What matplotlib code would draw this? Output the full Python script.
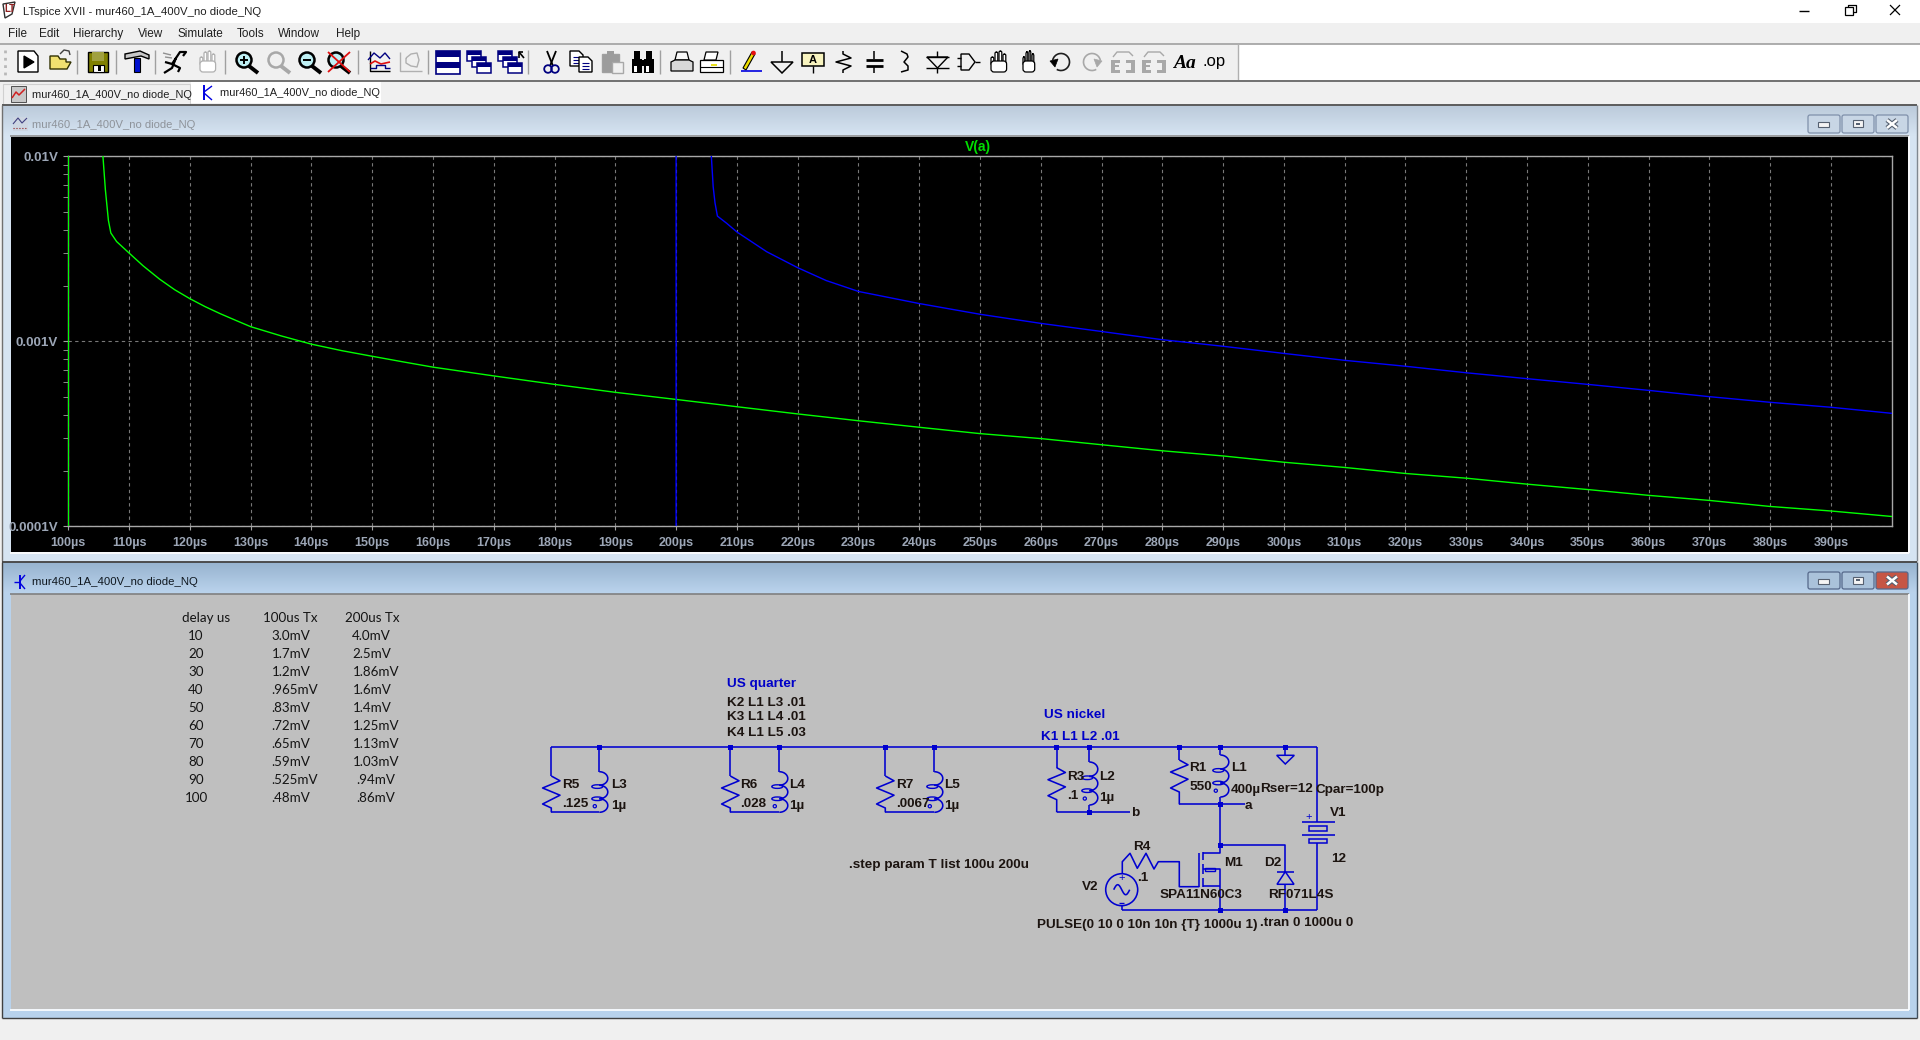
import numpy as np
import matplotlib
matplotlib.use("Agg")
import matplotlib.pyplot as plt
from matplotlib.patches import Rectangle, Circle, Polygon, Ellipse, FancyBboxPatch, Arc

# Traces
green_t = [100, 100, 105.7, 106.1, 106.6, 107, 107.95, 110, 112.3, 115, 117.5, 120, 122.5, 125, 127.5, 130, 135, 140, 145,
           150, 155, 160, 170, 180, 190, 200, 210, 220, 230, 240, 250, 260, 270, 280, 290, 300, 310, 320, 330, 340, 350,
           360, 370, 380, 390, 400]
green_v = [1e-5, 1, 0.01, 6.6e-3, 4.5e-3, 3.85e-3, 3.46e-3, 3.0e-3, 2.56e-3, 2.17e-3, 1.9e-3, 1.7e-3, 1.54e-3, 1.41e-3,
           1.30e-3, 1.2e-3, 1.07e-3, 9.65e-4, 8.9e-4, 8.3e-4, 7.75e-4, 7.25e-4, 6.5e-4, 5.85e-4, 5.3e-4, 4.85e-4, 4.43e-4,
           4.05e-4, 3.72e-4, 3.43e-4, 3.17e-4, 2.98e-4, 2.76e-4, 2.56e-4, 2.40e-4, 2.22e-4, 2.08e-4, 1.93e-4, 1.82e-4,
           1.69e-4, 1.58e-4, 1.47e-4, 1.38e-4, 1.28e-4, 1.21e-4, 1.13e-4]
blue_t = [200, 200, 205.8, 206.1, 206.4, 206.8, 208.3, 210, 214.9, 220, 224.7, 230, 240, 250, 260, 270, 280, 290, 300,
          310, 320, 330, 340, 350, 360, 370, 380, 390, 400]
blue_v = [1e-5, 1, 0.01, 6.85e-3, 5.6e-3, 4.75e-3, 4.35e-3, 3.9e-3, 3.05e-3, 2.5e-3, 2.13e-3, 1.86e-3, 1.6e-3, 1.4e-3,
          1.25e-3, 1.13e-3, 1.02e-3, 9.4e-4, 8.6e-4, 7.89e-4, 7.33e-4, 6.76e-4, 6.28e-4, 5.85e-4, 5.43e-4, 5.02e-4,
          4.68e-4, 4.40e-4, 4.08e-4]
x_ticks = list(range(100, 400, 10))
y_ticks = [0.01, 0.001, 0.0001]
y_labels = ["0.01V", "0.001V", "0.0001V"]

# Table pasted into the schematic
delay_us = ["10", "20", "30", "40", "50", "60", "70", "80", "90", "100"]
tx_100us = ["3.0mV", "1.7mV", "1.2mV", ".965mV", ".83mV", ".72mV", ".65mV", ".59mV", ".525mV", ".48mV"]
tx_200us = ["4.0mV", "2.5mV", "1.86mV", "1.6mV", "1.4mV", "1.25mV", "1.13mV", "1.03mV", ".94mV", ".86mV"]

menu_items = ["File", "Edit", "Hierarchy", "View", "Simulate", "Tools", "Window", "Help"]
menu_x = [8, 39, 73, 138, 177, 237, 278, 336]
doc_name = "mur460_1A_400V_no diode_NQ"

UI = "Liberation Sans"
WIRE = "#0000d0"
PANEL = "#f0f0f0"

fig = plt.figure(figsize=(19.2, 10.4), dpi=100, facecolor=PANEL)
bg = fig.add_axes([0, 0, 1, 1])
bg.set_xlim(0, 1920)
bg.set_ylim(1040, 0)
bg.axis("off")


def box(x0, y0, x1, y1, fc="none", ec="none", lw=1.0, z=1):
    bg.add_patch(Rectangle((x0, y0), x1 - x0, y1 - y0, facecolor=fc, edgecolor=ec, linewidth=lw, zorder=z))


def gradient(x0, y0, x1, y1, top, bottom):
    c0 = np.array(matplotlib.colors.to_rgb(top))
    c1 = np.array(matplotlib.colors.to_rgb(bottom))
    steps = np.linspace(0, 1, 32)[:, None, None]
    img = c0[None, None, :] * (1 - steps) + c1[None, None, :] * steps
    bg.imshow(img, extent=(x0, x1, y1, y0), aspect="auto", zorder=1, interpolation="bilinear")
    bg.set_xlim(0, 1920)
    bg.set_ylim(1040, 0)


def line(xs, ys, c="black", lw=1.0, z=3, **kw):
    bg.plot(xs, ys, color=c, lw=lw, zorder=z, solid_capstyle="butt", **kw)


def poly(pts, fc="none", ec="black", lw=0.9, z=3):
    bg.add_patch(Polygon(pts, closed=True, facecolor=fc, edgecolor=ec, linewidth=lw, zorder=z))


def label(x, y, s, size=9.7, c="#1c1410", weight="bold", family="Liberation Sans", ha="left", z=6):
    bg.text(x, y + 0.8, s, fontsize=size, color=c, fontweight=weight, family=family, ha=ha, va="center", zorder=z)


# ---- main window chrome ----
box(0, 0, 1920, 23, fc="white")
box(0, 23, 1920, 43, fc=PANEL)
line([0, 1920], [43.5, 43.5], "#a0a0a0", 1.2)
box(0, 44, 1238, 80, fc=PANEL)
box(1238, 44, 1920, 80, fc="white")
line([1238, 1238], [44, 80], "#b0b0b0", 1)
line([0, 1920], [81, 81], "#707070", 1.4)
label(23, 11.5, "LTspice XVII - " + doc_name, size=8.2, c="#202020", weight="normal", family=UI)
for name, mx in zip(menu_items, menu_x):
    label(mx, 33, name, size=8.5, c="#202020", weight="normal", family=UI)
# title bar logo
poly([(3, 4), (15, 2), (12, 14), (5, 18)], fc="white", ec="#303030", lw=1)
label(4, 8, "LT", size=7, c="#902020", family=UI)
# caption buttons
line([1799, 1809], [10.5, 10.5], "black", 1)
box(1845, 7, 1853, 15, ec="black", fc="white", lw=0.9, z=4)
line([1848, 1848, 1856, 1856, 1853], [7, 4.5, 4.5, 12, 12], "black", 0.9)
line([1890, 1900], [5, 15], "black", 0.9)
line([1890, 1900], [15, 5], "black", 0.9)

# tabs
box(3, 84, 190, 105, fc=PANEL, ec="#d0d0d0", lw=0.8)
box(191, 82, 381, 103, fc="white")
label(32, 94.5, doc_name, size=7.95, c="#202020", weight="normal", family=UI)
label(220, 92.5, doc_name, size=7.95, c="#202020", weight="normal", family=UI)
box(11, 86, 26, 102, fc="#c8c8c8", ec="#505050", lw=0.7)
line([12, 16, 19, 25], [98, 92, 95, 89], "#d02020", 1.1)
line([204, 204], [85, 100], "#0000e0", 1.4)
line([204, 212], [92, 86], "#0000e0", 1.0)
line([204, 212], [93, 100], "#0000e0", 1.0)

# ---- MDI child windows ----
box(2, 105, 1917, 561, fc="#d6e4f2")
gradient(2, 106, 1917, 136, "#bccbdb", "#d6e4f2")
line([2, 1917], [105, 105], "#505050", 1.3)
line([2, 2], [105, 561], "#707070", 1.0)
line([1917, 1917], [105, 561], "#808890", 1.0)
box(11, 137, 1908, 552, fc="black", z=2)
line([10, 1909], [136, 136], "#909090", 1.2, z=2)
line([1909, 1909], [136, 553], "white", 1.2, z=2)
line([10, 1909], [553, 553], "white", 1.2, z=2)
label(32.5, 124.5, doc_name, size=8.1, c="#8e939a", weight="normal", family=UI)

box(2, 562, 1917, 1018, fc="#b8d2ec")
gradient(2, 563, 1917, 593, "#98b4d0", "#bad3ec")
line([2, 1917], [562, 562], "#404040", 1.3)
line([2, 2], [562, 1018], "#404040", 1.0)
line([1917, 1917], [562, 1018], "#405060", 1.0)
line([2, 1917], [1018, 1018], "#404040", 1.0)
box(11, 594, 1908, 1009, fc="#bfbfbf", z=2)
line([10, 1909], [593.5, 593.5], "#808080", 1.2, z=2)
line([1908.5, 1908.5], [594, 1010], "white", 1.2, z=2)
line([10, 1909], [1009.5, 1009.5], "white", 1.2, z=2)
label(32, 581.5, doc_name, size=8.2, c="#101820", weight="normal", family=UI)
line([20, 20], [575, 589], "#0000e0", 1.4)
line([20, 25], [581, 575], "#0000e0", 1.0)
line([20, 25], [583, 589], "#0000e0", 1.0)
line([14, 20], [582, 582], "#0000e0", 1.0)
# child window plot icon
box(12.5, 117, 27.5, 131, fc="#cdd6e2", ec="none")
line([13, 18, 22, 27], [124, 118, 123, 118], "#404080", 0.8)
line([13, 27], [128, 128], "#902020", 0.8, linestyle=":")


def win_button(x0, x1, y0, y1, fc, ec):
    bg.add_patch(FancyBboxPatch((x0, y0), x1 - x0, y1 - y0, boxstyle="round,pad=0,rounding_size=2",
                                facecolor=fc, edgecolor=ec, linewidth=0.9, zorder=4))


for y0, y1, fcs, ec in [(115, 133, ["#c8d6e5", "#c8d6e5", "#c8d6e5"], "#7f90aa"),
                        (572, 589, ["#aac2da", "#aac2da", "#c65645"], "#55688a")]:
    ym = (y0 + y1) / 2
    win_button(1808, 1840, y0, y1, fcs[0], ec)
    win_button(1842, 1874, y0, y1, fcs[1], ec)
    win_button(1876, 1908, y0, y1, fcs[2], ec)
    box(1818, ym - 2, 1829, ym + 3, fc="#f4f4f4", ec="#556070", lw=0.8, z=5)
    box(1853, ym - 4, 1863, ym + 3, fc="#f4f4f4", ec="#556070", lw=0.8, z=5)
    box(1856, ym - 1.5, 1860, ym + 0.5, fc="#556070", z=6)
    line([1887, 1897], [ym - 4, ym + 4], "#556070", 3.4, z=5)
    line([1887, 1897], [ym + 4, ym - 4], "#556070", 3.4, z=5)
    line([1887, 1897], [ym - 4, ym + 4], "white", 1.8, z=6)
    line([1887, 1897], [ym + 4, ym - 4], "white", 1.8, z=6)

# ---- toolbar ----
for sx in [77, 116, 155, 225, 358, 428, 528, 660, 730]:
    line([sx, sx], [50, 74], "#a0a0a0", 1.0)
line([5, 5], [50, 76], "#b8b8b8", 2, linestyle=":")


def magnifier(x0, color, inner="#e8f4f8", mark=None):
    bg.add_patch(Circle((x0 + 9, 60), 7.5, facecolor=inner, edgecolor=color, linewidth=1.8, zorder=3))
    line([x0 + 14, x0 + 23], [66, 73], color, 2.8)
    if mark in ("plus", "minus"):
        line([x0 + 5, x0 + 13], [60, 60], "black", 1.4, z=4)
    if mark == "plus":
        line([x0 + 9, x0 + 9], [56, 64], "black", 1.4, z=4)
    if mark == "cross":
        line([x0 + 1, x0 + 23], [52, 72], "#e01010", 1.3, z=4)
        line([x0 + 1, x0 + 23], [72, 52], "#e01010", 1.3, z=4)


def hand(x0, color, w=20):
    for i, h in enumerate([6, 11, 12, 9]):
        fx = x0 + 3 + i * w / 5
        bg.add_patch(FancyBboxPatch((fx, 63 - h), w / 5 - 1.2, h + 2, boxstyle="round,pad=0,rounding_size=1.5",
                                    facecolor="white", edgecolor=color, linewidth=0.9, zorder=3))
    bg.add_patch(FancyBboxPatch((x0 + 3, 61), w * 0.78, 11, boxstyle="round,pad=0,rounding_size=3",
                                facecolor="white", edgecolor=color, linewidth=0.9, zorder=3))


def window_icon(x0, y0, w, h, c="#000080"):
    box(x0, y0, x0 + w, y0 + h, fc="white", ec=c, lw=1.1, z=3)
    box(x0, y0, x0 + w, y0 + 4, fc=c, z=3)


def undo_e(x0):
    # greyed out undo/redo text boxes
    c = "#a8a8a8"
    line([x0 + 2, x0 + 6, x0 + 18, x0 + 22], [57, 52, 52, 56], c, 1.0)
    box(x0, 60, x0 + 4, 72, fc=c, z=3)
    box(x0, 60, x0 + 9, 63, fc=c, z=3)
    box(x0, 65, x0 + 8, 67, fc=c, z=3)
    box(x0, 70, x0 + 9, 73, fc=c, z=3)
    box(x0 + 15, 60, x0 + 24, 63, fc=c, z=3)
    box(x0 + 20, 60, x0 + 24, 72, fc=c, z=3)
    box(x0 + 15, 70, x0 + 24, 73, fc=c, z=3)


# run / open / save
poly([(18, 51), (34, 51), (38, 56), (38, 72), (18, 72)], fc="white", lw=1.0)
poly([(24, 56), (34, 62), (24, 68)], fc="black")
poly([(50, 69), (50, 56), (58, 56), (60, 59), (66, 59), (66, 62), (71, 62), (67, 69)], fc="#f0e070", ec="#303000", lw=1.0)
line([60, 64, 69, 70], [54, 50, 51, 55], "#404040", 1.0)
box(88, 52, 108, 72, fc="#808000", ec="black", lw=1.0)
box(92, 52, 104, 61, fc="#a0a040", z=3)
box(93, 65, 104, 72, fc="white", ec="black", lw=0.8, z=3)
box(98, 66, 101, 71, fc="black", z=4)
# hammer, runner, hand
poly([(125, 54), (140, 51), (149, 55), (149, 59), (141, 56), (125, 59)], fc="#c8c8c8", lw=1.0)
box(134, 58, 140, 72, fc="#0010d0", ec="black", lw=0.8)
line([165, 172, 176, 172, 164], [62, 64, 58, 68, 73], "black", 1.6)
line([176, 180, 186, 183], [58, 52, 52, 56], "black", 1.6)
line([172, 180, 178], [64, 68, 72], "black", 1.6)
line([163, 171], [53, 55], "#909090", 1.0)
line([165, 172], [57, 58], "#909090", 1.0)
hand(197, "#b0b0b0")
# zoom group
magnifier(235, "black", "#bff0f4", "plus")
magnifier(267, "#a8a8a8", "#f0f0f0")
magnifier(298, "black", "#bff0f4", "minus")
magnifier(327, "black", "#bff0f4", "cross")
# waveform icons
line([370, 370, 390], [51, 71, 71], "black", 1.0)
line([368, 374, 380, 385, 390], [60, 53, 58, 53, 59], "#000080", 1.0)
line([370, 375, 381, 390], [64, 61, 64, 62], "#e01010", 1.2)
line([370, 376, 376, 385, 385, 390], [68, 68, 65, 65, 68, 68], "#000080", 1.0)
line([400, 400, 422], [52, 71, 71], "#b0b0b0", 1.0)
line([406, 411, 417, 419, 417, 411, 406, 406], [58, 54, 53, 60, 67, 66, 63, 58], "#b0b0b0", 1.0)
# windows
box(436, 51, 460, 74, fc="white", ec="#000080", lw=1.2)
box(436, 51, 460, 57, fc="#000080", z=3)
box(436, 62, 460, 68, fc="#000080", z=3)
for wx, wy in [(467, 51), (472, 57), (477, 63)]:
    window_icon(wx, wy, 14, 10)
for wx, wy in [(498, 51), (503, 57), (508, 63)]:
    window_icon(wx, wy, 14, 10)
line([519, 519, 523], [58, 52, 52], "black", 1.2)
line([519, 524], [52, 58], "black", 1.2)
# scissors, copy, paste, binoculars, printers
line([547, 553], [51, 66], "black", 1.3)
line([556, 550], [51, 66], "black", 1.3)
bg.add_patch(Circle((548, 69), 3.8, facecolor="none", edgecolor="#000080", linewidth=1.3, zorder=3))
bg.add_patch(Circle((555, 69), 3.8, facecolor="none", edgecolor="#000080", linewidth=1.3, zorder=3))
for dx, dy in [(570, 51), (579, 57)]:
    poly([(dx, dy), (dx + 9, dy), (dx + 13, dy + 4), (dx + 13, dy + 15), (dx, dy + 15)], fc="white", lw=1.0)
    for k in range(3):
        line([dx + 3, dx + 10], [dy + 6 + k * 3, dy + 6 + k * 3], "#000080", 0.8)
box(602, 54, 619, 72, fc="#9c9c9c", ec="#a0a0a0")
box(607, 51, 614, 56, fc="#9c9c9c")
box(612, 62, 623, 73, fc="#f0f0f0", ec="#a8a8a8")
for bx in [632, 644]:
    box(bx, 59, bx + 10, 73, fc="black", z=3)
    box(bx + 2, 51, bx + 8, 60, fc="black", z=3)
    box(bx + 2, 66, bx + 5, 72, fc="white", z=4)
box(642, 60, 644, 66, fc="black", z=3)
poly([(677, 52), (687, 52), (689, 60), (675, 60)], fc="#f8f8f8", lw=0.9)
poly([(671, 62), (675, 60), (689, 60), (693, 62), (693, 71), (671, 71)], fc="#d8d8d8", lw=0.9)
poly([(706, 52), (718, 52), (716, 60), (704, 60)], fc="white", lw=0.9)
box(700, 60, 723, 72, fc="white", ec="black", lw=0.9)
box(711, 64, 717, 66, fc="#e8e020", z=4)
line([700, 723], [67, 67], "black", 0.8, z=4)
# pencil, ground, label, res, cap, ind, diode, gate
poly([(743, 68), (752, 52), (755, 54), (746, 70)], fc="#f0e000", lw=0.8)
bg.add_patch(Circle((753.5, 53), 2.3, facecolor="#e81010", edgecolor="none", zorder=4))
line([741, 762], [71, 71], "#0000e0", 1.2)
line([781.5, 781.5], [51, 62], "black", 1.1)
poly([(771, 62), (793, 62), (782, 73)], fc="none", lw=1.1)
box(802, 53, 824, 66, fc="#f8f4c0", ec="black", lw=1.1)
label(813, 59, "A", size=8, c="black", ha="center")
line([813, 813], [66, 73], "black", 1.0)
line([843, 843, 851, 836, 851, 843, 843], [51, 54, 58, 62, 66, 70, 73], "black", 1.1)
line([874, 874], [51, 59], "black", 1.1)
line([866, 883], [60, 60], "black", 2.0)
line([866, 883], [66, 66], "black", 2.0)
line([874, 874], [67, 73], "black", 1.1)
line([901, 907, 908, 904, 908, 908, 901], [51, 54, 57, 62, 66, 70, 72], "black", 1.1)
line([937, 937], [51, 57], "black", 1.0)
line([926, 949], [57, 57], "black", 1.0)
poly([(927, 57), (948, 57), (937.5, 68)], fc="none", lw=1.0)
line([926, 949], [68, 68], "black", 1.0)
line([937, 937], [68, 73], "black", 1.0)
poly([(961, 54), (969, 54), (975, 62), (969, 70), (961, 70)], fc="none", lw=1.0)
line([957, 961], [58, 58], "black", 1.0)
line([957, 961], [66, 66], "black", 1.0)
line([975, 980], [62, 62], "black", 1.0)
hand(988, "black")
hand(1020, "black", w=15)
# undo / redo
bg.add_patch(Arc((1061, 62), 17, 17, theta1=-170, theta2=120, edgecolor="#202020", linewidth=1.2, zorder=3))
poly([(1050, 61), (1058, 59), (1055, 67)], fc="black", lw=0.5)
bg.add_patch(Arc((1092, 62), 17, 17, theta1=60, theta2=350, edgecolor="#a8a8a8", linewidth=1.2, zorder=3))
poly([(1102, 61), (1094, 59), (1097, 67)], fc="#a8a8a8", ec="#a8a8a8", lw=0.5)
# E icons, text
undo_e(1111)
undo_e(1142)
bg.text(1173, 63, "Aa", fontsize=14, family="Liberation Serif", style="italic", fontweight="bold", va="center", zorder=4)
label(1203, 61, ".op", size=12, c="black", weight="normal", family="Liberation Sans")

# ---- waveform axes ----
ax = fig.add_axes([68.3 / 1920, 1 - 526.3 / 1040, (1891.7 - 68.3) / 1920, 370 / 1040], facecolor="black", zorder=5)
ax.set_xscale("linear")
ax.set_yscale("log")
ax.plot(green_t, green_v, color="#00ff00", lw=1.0, zorder=4)
ax.plot(blue_t, blue_v, color="#0000ff", lw=1.0, zorder=4)
ax.set_xlim(100, 400)
ax.set_ylim(1e-4, 1e-2)
ax.set_xticks(x_ticks)
ax.set_xticklabels([f"{t}µs" for t in x_ticks])
ax.set_yticks(y_ticks)
ax.set_yticklabels(y_labels)
ax.set_yticks([k * d for d in (1e-4, 1e-3) for k in range(2, 10)], minor=True)
ax.yaxis.set_minor_formatter(matplotlib.ticker.NullFormatter())
ax.tick_params(axis="x", which="major", length=3, color="#a0a0a0", labelcolor="#9ca6b6", labelsize=9, pad=5)
ax.tick_params(axis="y", which="both", length=3.5, color="#a0a0a0", labelcolor="#9ca6b6", labelsize=9.6, pad=4)
for t in ax.get_xticklabels() + ax.get_yticklabels():
    t.set_family("Liberation Sans")
    t.set_fontweight("bold")
for s in ax.spines.values():
    s.set_color("#a8a8a8")
    s.set_linewidth(1.0)
ax.grid(True, which="major", color="#787878", linestyle=(0, (3, 3)), linewidth=0.8, zorder=1)
ax.grid(False, which="minor")
ax.set_axisbelow(True)
label(978, 146, "V(a)", size=10, c="#00dd00", ha="center")

# ---- table in the schematic ----
TBL = dict(size=9.6, c="#141414", weight="normal", family="Lato")
label(182.3, 617.5, "delay us", **TBL)
label(263.3, 617.5, "100us Tx", **TBL)
label(345.3, 617.5, "200us Tx", **TBL)
col3_x = [352, 352.7, 352.7, 353.3, 352.7, 352.7, 352.7, 352.7, 356.7, 356.7]
for i, (d, a, b) in enumerate(zip(delay_us, tx_100us, tx_200us)):
    y = 635.7 + 18 * i
    label(185.3 if d == "100" else 188.3, y, d, **TBL)
    label(271.7, y, a, **TBL)
    label(col3_x[i], y, b, **TBL)


# ---- schematic ----
def wire(xs, ys):
    line(xs, ys, WIRE, 1.15, z=4)


def dot(x, y):
    box(x - 2.5, y - 2.5, x + 2.5, y + 2.5, fc=WIRE, z=5)


def resistor(x, y_top, y_bot, scale=1.0):
    h = 32 * scale
    wire([x, x], [RAIL, y_top])
    wire([x, x + 8.7, x - 8.7, x + 8.7, x - 8.7, x, x],
         [y_top, y_top + 0.15 * h, y_top + 0.375 * h, y_top + 0.6 * h, y_top + 0.875 * h, y_top + h, y_bot])


def inductor(x, y_top, y_bot):
    wire([x, x], [RAIL, y_top])
    n = 3
    bump = (y_bot - y_top) / n
    th = np.linspace(-np.pi / 2, np.pi / 2, 16)
    for k in range(n):
        wire(x + 8.5 * np.cos(th), y_top + bump * (k + 0.5) + bump / 2 * np.sin(th))
    bg.add_patch(Ellipse((x - 2, y_top + bump * 1.1), 11, 3.6, fill=False, edgecolor=WIRE, linewidth=1.0, zorder=4))
    bg.add_patch(Ellipse((x - 2, y_top + bump * 2.0), 11, 3.6, fill=False, edgecolor=WIRE, linewidth=1.0, zorder=4))
    bg.add_patch(Circle((x - 4.5, y_top + bump * 2.55), 1.6, fill=False, edgecolor=WIRE, linewidth=0.9, zorder=4))


RAIL = 747.3
wire([551.3, 1317.3], [RAIL, RAIL])
for jx in [599.3, 730.3, 779.3, 885.3, 934.3, 1056.7, 1089.3, 1179.3, 1220.3, 1285.3]:
    dot(jx, RAIL)

for rx, lx in [(551.3, 599.3), (730.3, 779.3), (885.3, 934.3)]:
    resistor(rx, 776, 812.3)
    inductor(lx, 771.7, 812.3)
    wire([rx, lx], [812.3, 812.3])

resistor(1056.7, 767.7, 812.3)
inductor(1089.3, 762, 805)
wire([1056.7, 1130], [812.3, 812.3])
wire([1089.3, 1089.3], [805, 812.3])
dot(1089.3, 812.3)

resistor(1179.3, 760, 804.3)
inductor(1220.3, 755, 797)
wire([1179.3, 1245], [804.3, 804.3])
wire([1220.3, 1220.3], [797, 845.3])
dot(1220.3, 804.3)
dot(1220.3, 845.3)

# ground flag
wire([1285.3, 1285.3], [RAIL, 755.3])
poly([(1276.7, 755.3), (1294.3, 755.3), (1285.3, 764)], ec=WIRE, lw=1.1, z=4)

# source V1
wire([1317.3, 1317.3], [RAIL, 822.3])
wire([1301.7, 1335], [822.3, 822.3])
box(1309, 826, 1326.7, 831.3, ec=WIRE, lw=1.1, z=4)
wire([1301.7, 1335], [835.3, 835.3])
box(1309, 839.3, 1326.7, 843.3, ec=WIRE, lw=1.1, z=4)
wire([1317.3, 1317.3], [843.3, 910.3])
label(1309, 816, "+", size=8, c=WIRE, ha="center", weight="normal")

# ground rail and diode
wire([1122.3, 1317.3], [910.3, 910.3])
dot(1220.3, 910.3)
dot(1285.3, 910.3)
wire([1220.3, 1285.3, 1285.3], [845.3, 845.3, 871.7])
wire([1277, 1294], [871.7, 871.7])
poly([(1285.3, 871.7), (1277, 884.3), (1294, 884.3)], ec=WIRE, lw=1.1, z=4)
wire([1285.3, 1285.3], [884.3, 910.3])

# mosfet M1
wire([1220.3, 1220.3, 1203], [845.3, 853.3, 853.3])
wire([1199.3, 1199.3], [852.7, 886.7])
wire([1203, 1203], [852, 860])
wire([1203, 1203], [864, 874])
wire([1203, 1203], [878, 887])
wire([1203, 1220.3, 1220.3], [869.3, 869.3, 910.3])
wire([1203, 1220.3], [886.3, 886.3])
box(1205, 867.5, 1215, 871, ec=WIRE, lw=1.0, z=4)

# gate drive R4 and V2
wire([1122.3, 1122.3, 1130, 1137.3, 1146, 1154, 1158.3, 1179.3, 1179.3, 1199.3],
     [873.7, 861.7, 853.3, 868.3, 853.3, 869, 861.7, 861.7, 886.7, 886.7])
bg.add_patch(Circle((1121.7, 889.7), 16, fill=False, edgecolor=WIRE, linewidth=1.15, zorder=4))
th_v2 = np.linspace(0, 2 * np.pi, 40)
wire(1121.7 + 8 * (th_v2 / np.pi - 1), 889.7 - 5 * np.sin(th_v2))
label(1121.7, 877, "+", size=8, c=WIRE, ha="center", weight="normal")
line([1119, 1124], [902.5, 902.5], WIRE, 1)
wire([1122.3, 1122.3], [905.7, 910.3])

# schematic text
label(726.7, 682.7, "US quarter", c="#0000c8")
label(726.7, 702.7, "K2 L1 L3 .01")
label(726.7, 716.7, "K3 L1 L4 .01")
label(726.7, 731.7, "K4 L1 L5 .03")
label(1044.3, 714.3, "US nickel", c="#0000c8")
label(1040.7, 735.7, "K1 L1 L2 .01", c="#0000c8")
label(848.6, 864.5, ".step param T list 100u 200u")

for s, x, y in [("R5", 561.7, 784.3), (".125", 561.7, 803.3), ("L3", 610.7, 784.3), ("1µ", 610.7, 805),
                ("R6", 740, 784.3), (".028", 740, 803.3), ("L4", 789, 784.3), ("1µ", 789, 805),
                ("R7", 895.7, 784.3), (".0067", 895.7, 803.3), ("L5", 944.3, 784.3), ("1µ", 944.3, 805),
                ("R3", 1067.3, 775.7), (".1", 1067.3, 795), ("L2", 1099.3, 775.7), ("1µ", 1099.3, 796.7),
                ("b", 1130.7, 812.7), ("R1", 1189.3, 767.3), ("550", 1189.3, 786.7), ("L1", 1230.7, 767.3),
                ("400µ", 1230.7, 788.7), ("Rser=12", 1260, 788.7), ("Cpar=100p", 1316, 788.7), ("a", 1244.3, 805),
                ("V1", 1330, 812.7), ("12", 1330.7, 857.7), ("R4", 1133.3, 846.7), (".1", 1136.7, 877.3),
                ("V2", 1082, 886.7), ("SPA11N60C3", 1160, 894), ("M1", 1224, 861.7), ("D2", 1264.3, 861.7),
                ("RF071L4S", 1268.3, 894.3), ("PULSE(0 10 0 10n 10n {T} 1000u 1)", 1037.3, 924.3),
                (".tran 0 1000u 0", 1260, 922.7)]:
    label(x, y, s)

fig.savefig("out.png", dpi=100, facecolor=PANEL)
